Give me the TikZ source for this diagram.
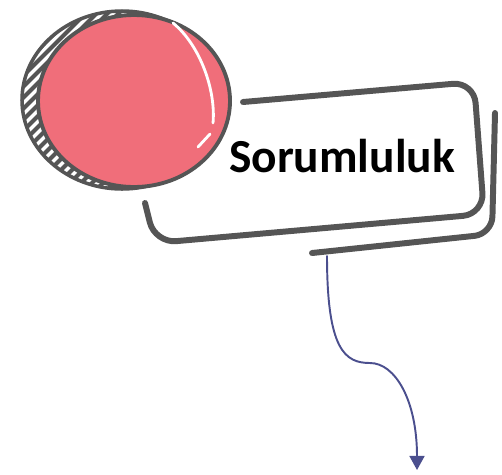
\documentclass[tikz,border=0pt]{standalone}
\usepackage{fontspec}
\setmainfont{Carlito}
\usetikzlibrary{arrows.meta}
\definecolor{ballpink}{HTML}{F06E7A}
\definecolor{framegray}{HTML}{555555}
\definecolor{arrowblue}{HTML}{4B4F8E}
\begin{document}
\begin{tikzpicture}[x=0.02cm, y=-0.02cm, line cap=round, line join=round]
  \useasboundingbox (0,0) rectangle (502,474);

  % Back disc (hatched crescent)
  \begin{scope}
    \clip (122,100) ellipse [x radius=100, y radius=89];
    \fill[white] (0,0) rectangle (260,200);
    \foreach \i in {-200,-189,...,260}
      \draw[framegray, line width=2.4pt] (\i,200) -- (\i+200,0);
  \end{scope}
  \draw[framegray, line width=2pt] (122,100) ellipse [x radius=100, y radius=89];

  % Pink disc
  \fill[ballpink, draw=framegray, line width=2.2pt] (134,101) ellipse [x radius=96, y radius=86];

  % Highlight
  \draw[white, line width=1.6pt] (173,23) .. controls (200,45) and (216,90) .. (213,123);
  \draw[white, line width=1.6pt] (210,134) -- (198,147);

  % Frame strokes
  \draw[framegray, line width=3.4pt, rounded corners=12pt]
    (243,102) -- (474,82) -- (484,214) -- (155,243) -- (145,203);
  \draw[framegray, line width=3.4pt, rounded corners=10pt]
    (495,113) -- (492,234) -- (312,253);

  % Label
  \node[font=\bfseries\fontsize{27}{31}\selectfont] (title) at (342,156) {Sorumluluk};

  % Arrow
  \coordinate (start) at (327,256);
  \coordinate (tip) at (417,470);
  \draw[arrowblue, line width=1.1pt, -{Triangle[length=8pt,width=8.5pt]}]
    (start) .. controls (327,350) and (345,363) .. (370,363)
    .. controls (395,363) and (417,400) .. (tip);
\end{tikzpicture}
\end{document}
